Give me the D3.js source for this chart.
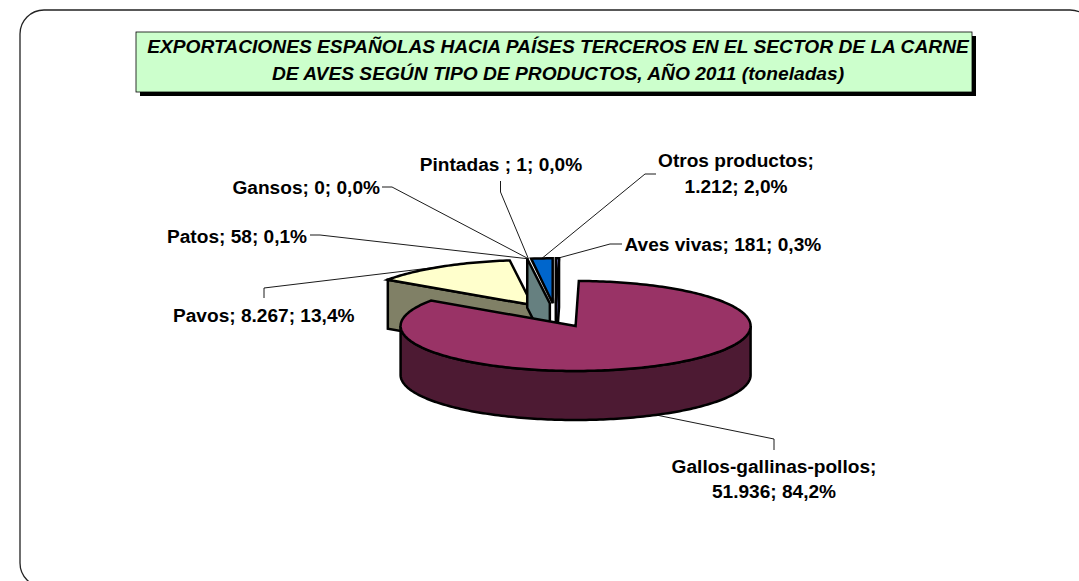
<!DOCTYPE html>
<meta http-equiv="Content-type" content="text/html; charset=UTF-8"/>
<script src="https://d3js.org/d3.v7.min.js"></script>
<style>
html, body { margin: 0; padding: 0; background: #fff; overflow: hidden; }
* { font-family: 'Liberation Sans', Arial, sans-serif; }
</style>
<svg width="1079" height="581"></svg>
<script>
// values, in clockwise order starting at 12 o'clock
var categories = ["Aves vivas", "Gallos-gallinas-pollos", "Pavos", "Patos", "Gansos", "Pintadas", "Otros productos"];
var values = [181, 51936, 8267, 58, 0, 1, 1212];
var valueLabels = ["181", "51.936", "8.267", "58", "0", "1", "1.212"];
var percentLabels = ["0,3%", "84,2%", "13,4%", "0,1%", "0,0%", "0,0%", "2,0%"];
var colors = ["#9999ff", "#993366", "#ffffcc", "#ccffff", "#660066", "#ff8080", "#0066cc"];
var titleLines = ["EXPORTACIONES ESPAÑOLAS HACIA PAÍSES TERCEROS EN EL SECTOR DE LA CARNE",
                  "DE AVES SEGÚN TIPO DE PRODUCTOS, AÑO 2011 (toneladas)"];

var svg = d3.select("svg");

// outer rounded frame, runs off the window at right and bottom
svg.append("rect")
    .attr("x", 20).attr("y", 10)
    .attr("width", 1074).attr("height", 577)
    .attr("rx", 24).attr("ry", 24)
    .attr("fill", "#fff").attr("stroke", "#222").attr("stroke-width", 1.3);

// title box
svg.append("rect").attr("x", 140).attr("y", 36).attr("width", 836).attr("height", 60).attr("fill", "#000");
svg.append("rect").attr("x", 136).attr("y", 32).attr("width", 836).attr("height", 60)
    .attr("fill", "#ccffcc").attr("stroke", "#000").attr("stroke-width", 0.8);
svg.selectAll(".title").data(titleLines).enter().append("text")
    .attr("x", 558)
    .attr("y", function(d, i) { return 53 + i * 27; })
    .attr("text-anchor", "middle")
    .style("font-size", "19.2px").style("font-weight", "bold").style("font-style", "italic")
    .text(function(d) { return d; });

// 3D pie geometry
var cx = 555.4, cy = 315.3, rx = 175, ry = 45, depth = 49;
var explodeX = 44, explodeY = 12;

var arcs = d3.pie().sort(null).startAngle(0).endAngle(2 * Math.PI)(values);

function mid(a) { return (a.startAngle + a.endAngle) / 2; }
function apex(a) {
  return [cx + explodeX * Math.sin(mid(a)), cy - explodeY * Math.cos(mid(a))];
}
function rimPoint(a, t, dy) {
  var o = apex(a);
  return [o[0] + rx * Math.sin(t), o[1] - ry * Math.cos(t) + (dy || 0)];
}
function rim(a, t0, t1, dy) {
  var n = Math.max(2, Math.ceil(Math.abs(t1 - t0) / 0.02));
  return d3.range(n + 1).map(function(i) { return rimPoint(a, t0 + (t1 - t0) * i / n, dy); });
}
var line = d3.line();
function darker(c) { var r = d3.rgb(c); return d3.rgb(r.r / 2, r.g / 2, r.b / 2).formatHex(); }

function drawPoly(pts, fill) {
  svg.append("path")
      .attr("d", line(pts) + "Z")
      .attr("fill", fill)
      .attr("stroke", "#000").attr("stroke-width", 2.5).attr("stroke-linejoin", "miter");
}
function drawTop(a) {
  drawPoly([apex(a)].concat(rim(a, a.startAngle, a.endAngle)), colors[a.index]);
}
// flat cut face of a slice, dropped along its edge at angle t
function drawCut(a, t) {
  var o = apex(a), e = rimPoint(a, t);
  drawPoly([o, e, [e[0], e[1] + depth], [o[0], o[1] + depth]], darker(colors[a.index]));
}
// outer wall, only the part facing the viewer
function drawWall(a) {
  var t0 = Math.max(a.startAngle, Math.PI / 2), t1 = Math.min(a.endAngle, 3 * Math.PI / 2);
  if (t1 <= t0) return;
  drawPoly(rim(a, t0, t1).concat(rim(a, t1, t0, depth)), darker(colors[a.index]));
}

var aves = arcs[0], gallos = arcs[1], pavos = arcs[2], patos = arcs[3], otros = arcs[6];

drawCut(pavos, pavos.startAngle);
drawTop(pavos);
drawTop(otros);
drawCut(patos, patos.startAngle);
drawCut(aves, aves.endAngle);
drawTop(aves);
drawWall(gallos);
drawTop(gallos);

// leader lines: from the rim at the middle of the slice, through an elbow, to the label
var leaders = [
  [[610, 244], [622, 244]],
  [[774, 439], [774, 450]],
  [[264, 288], [264, 298]],
  [[320, 235], [310, 235]],
  [[392, 187], [382, 187]],
  [[500.5, 192], [500.5, 181]],
  [[645, 174], [656, 174]]
];
arcs.forEach(function(a, i) {
  var dy = i === 1 ? depth : 0;
  var start = rimPoint(a, mid(a), dy);
  svg.append("path")
      .attr("d", line([start].concat(leaders[i])))
      .attr("fill", "none").attr("stroke", "#000").attr("stroke-width", 0.9);
});

// data labels
var labelPos = [
  {x: 624.5, y: 251, anchor: "start"},
  {x: 774, y: 473, anchor: "middle", lh: 25},
  {x: 173, y: 322, anchor: "start"},
  {x: 167, y: 243, anchor: "start"},
  {x: 380, y: 194, anchor: "end"},
  {x: 501, y: 171, anchor: "middle"},
  {x: 736, y: 167, anchor: "middle", lh: 26}
];
var nameSep = [";", ";", ";", ";", ";", " ;", ";"];
categories.forEach(function(name, i) {
  var p = labelPos[i];
  var first = name + nameSep[i], rest = valueLabels[i] + "; " + percentLabels[i];
  var lines = p.lh ? [first, rest] : [first + " " + rest];
  lines.forEach(function(txt, j) {
    svg.append("text")
        .attr("x", p.x)
        .attr("y", p.y + j * (p.lh || 0))
        .attr("text-anchor", p.anchor)
        .style("font-size", "19.1px").style("font-weight", "bold")
        .text(txt);
  });
});
</script>
